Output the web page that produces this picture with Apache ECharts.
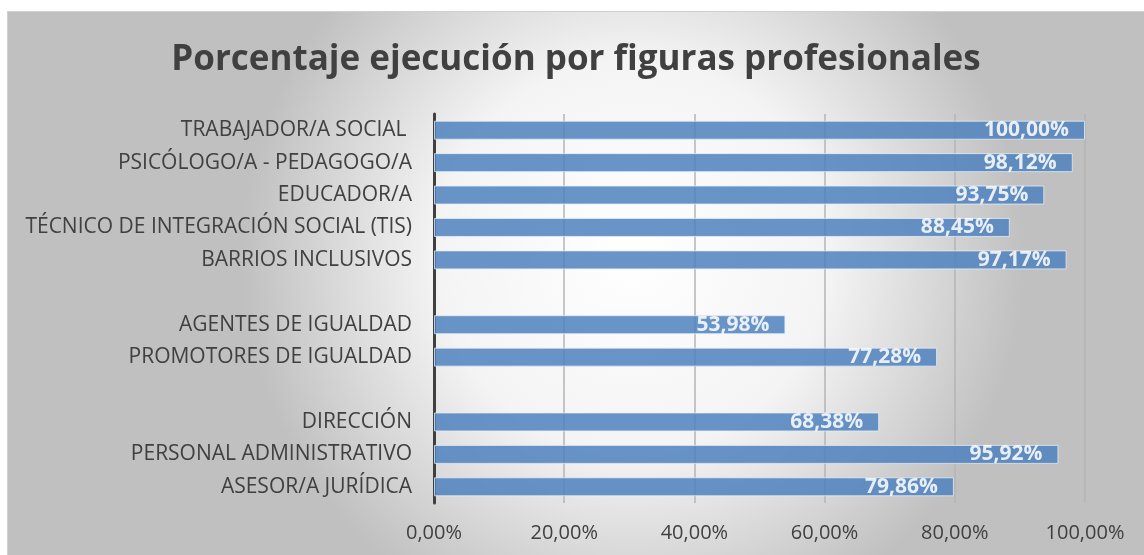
<!DOCTYPE html>
<html>
<head>
<meta charset="utf-8">
<script src="https://cdn.jsdelivr.net/npm/echarts@6/dist/echarts.min.js"></script>
<style>
	html, body { margin:0; padding:0; background:#fff; }
	#chart { position:absolute; left:7px; top:11px; width:1137px; height:544px; border-top:1px solid #d0d0d0; border-left:1px solid #d0d0d0; box-sizing:border-box; }
</style>
</head>
<body>
<div id="chart"></div>
<script>
// categorias de arriba abajo ('' = hueco entre grupos)
var categories = [
	'TRABAJADOR/A SOCIAL ',
	'PSICÓLOGO/A - PEDAGOGO/A',
	'EDUCADOR/A',
	'TÉCNICO DE INTEGRACIÓN SOCIAL (TIS)',
	'BARRIOS INCLUSIVOS',
	'',
	'AGENTES DE IGUALDAD',
	'PROMOTORES DE IGUALDAD',
	' ',
	'DIRECCIÓN',
	'PERSONAL ADMINISTRATIVO',
	'ASESOR/A JURÍDICA'
];
var ejecucion = [100.00, 98.12, 93.75, 88.45, 97.17, '-', 53.98, 77.28, '-', 68.38, 95.92, 79.86];
var xTicks = [0, 20, 40, 60, 80, 100];

function pct(v){
	return Number(v).toFixed(2).replace('.', ',') + '%';
}

var myChart = echarts.init(document.getElementById('chart'));
var option = {
	backgroundColor: {
		type: 'radial', x: 0.55, y: 0.45, r: 0.72,
		colorStops: [
			{offset: 0, color: '#ffffff'},
			{offset: 0.5, color: '#f4f4f4'},
			{offset: 1, color: '#c0c0c0'}
		]
	},
	textStyle: { fontFamily: 'Open Sans' },
	title: {
		text: 'Porcentaje ejecución por figuras profesionales',
		left: 'center',
		top: 26,
		textStyle: { fontFamily: 'Open Sans', fontSize: 35, fontWeight: 'bold', color: '#404040' }
	},
	grid: { left: 426, right: 59, top: 102, bottom: 52, containLabel: false },
	xAxis: {
		type: 'value',
		min: xTicks[0],
		max: xTicks[xTicks.length - 1],
		interval: 20,
		axisLine: { show: false },
		axisTick: { show: false },
		axisLabel: { color: '#404040', fontSize: 20, margin: 20, formatter: function(v){ return pct(v); } },
		splitLine: { lineStyle: { color: '#b4b4b4', width: 1.5 } }
	},
	yAxis: {
		type: 'category',
		data: categories,
		inverse: true,
		axisLine: { show: true, lineStyle: { color: '#404040', width: 3 } },
		axisTick: { show: false },
		axisLabel: { color: '#404040', fontSize: 21, margin: 22 }
	},
	series: [{
		type: 'bar',
		data: ejecucion,
		barWidth: 19,
		itemStyle: { color: '#4f81bd', opacity: 0.85, borderColor: 'rgba(230,238,248,0.9)', borderWidth: 1 },
		label: {
			show: true,
			position: 'insideRight',
			distance: 16,
			color: '#ffffff',
			fontSize: 21,
			fontWeight: 'bold',
			formatter: function(p){ return pct(p.value); }
		}
	}]
};
myChart.setOption(option);
</script>
</body>
</html>
